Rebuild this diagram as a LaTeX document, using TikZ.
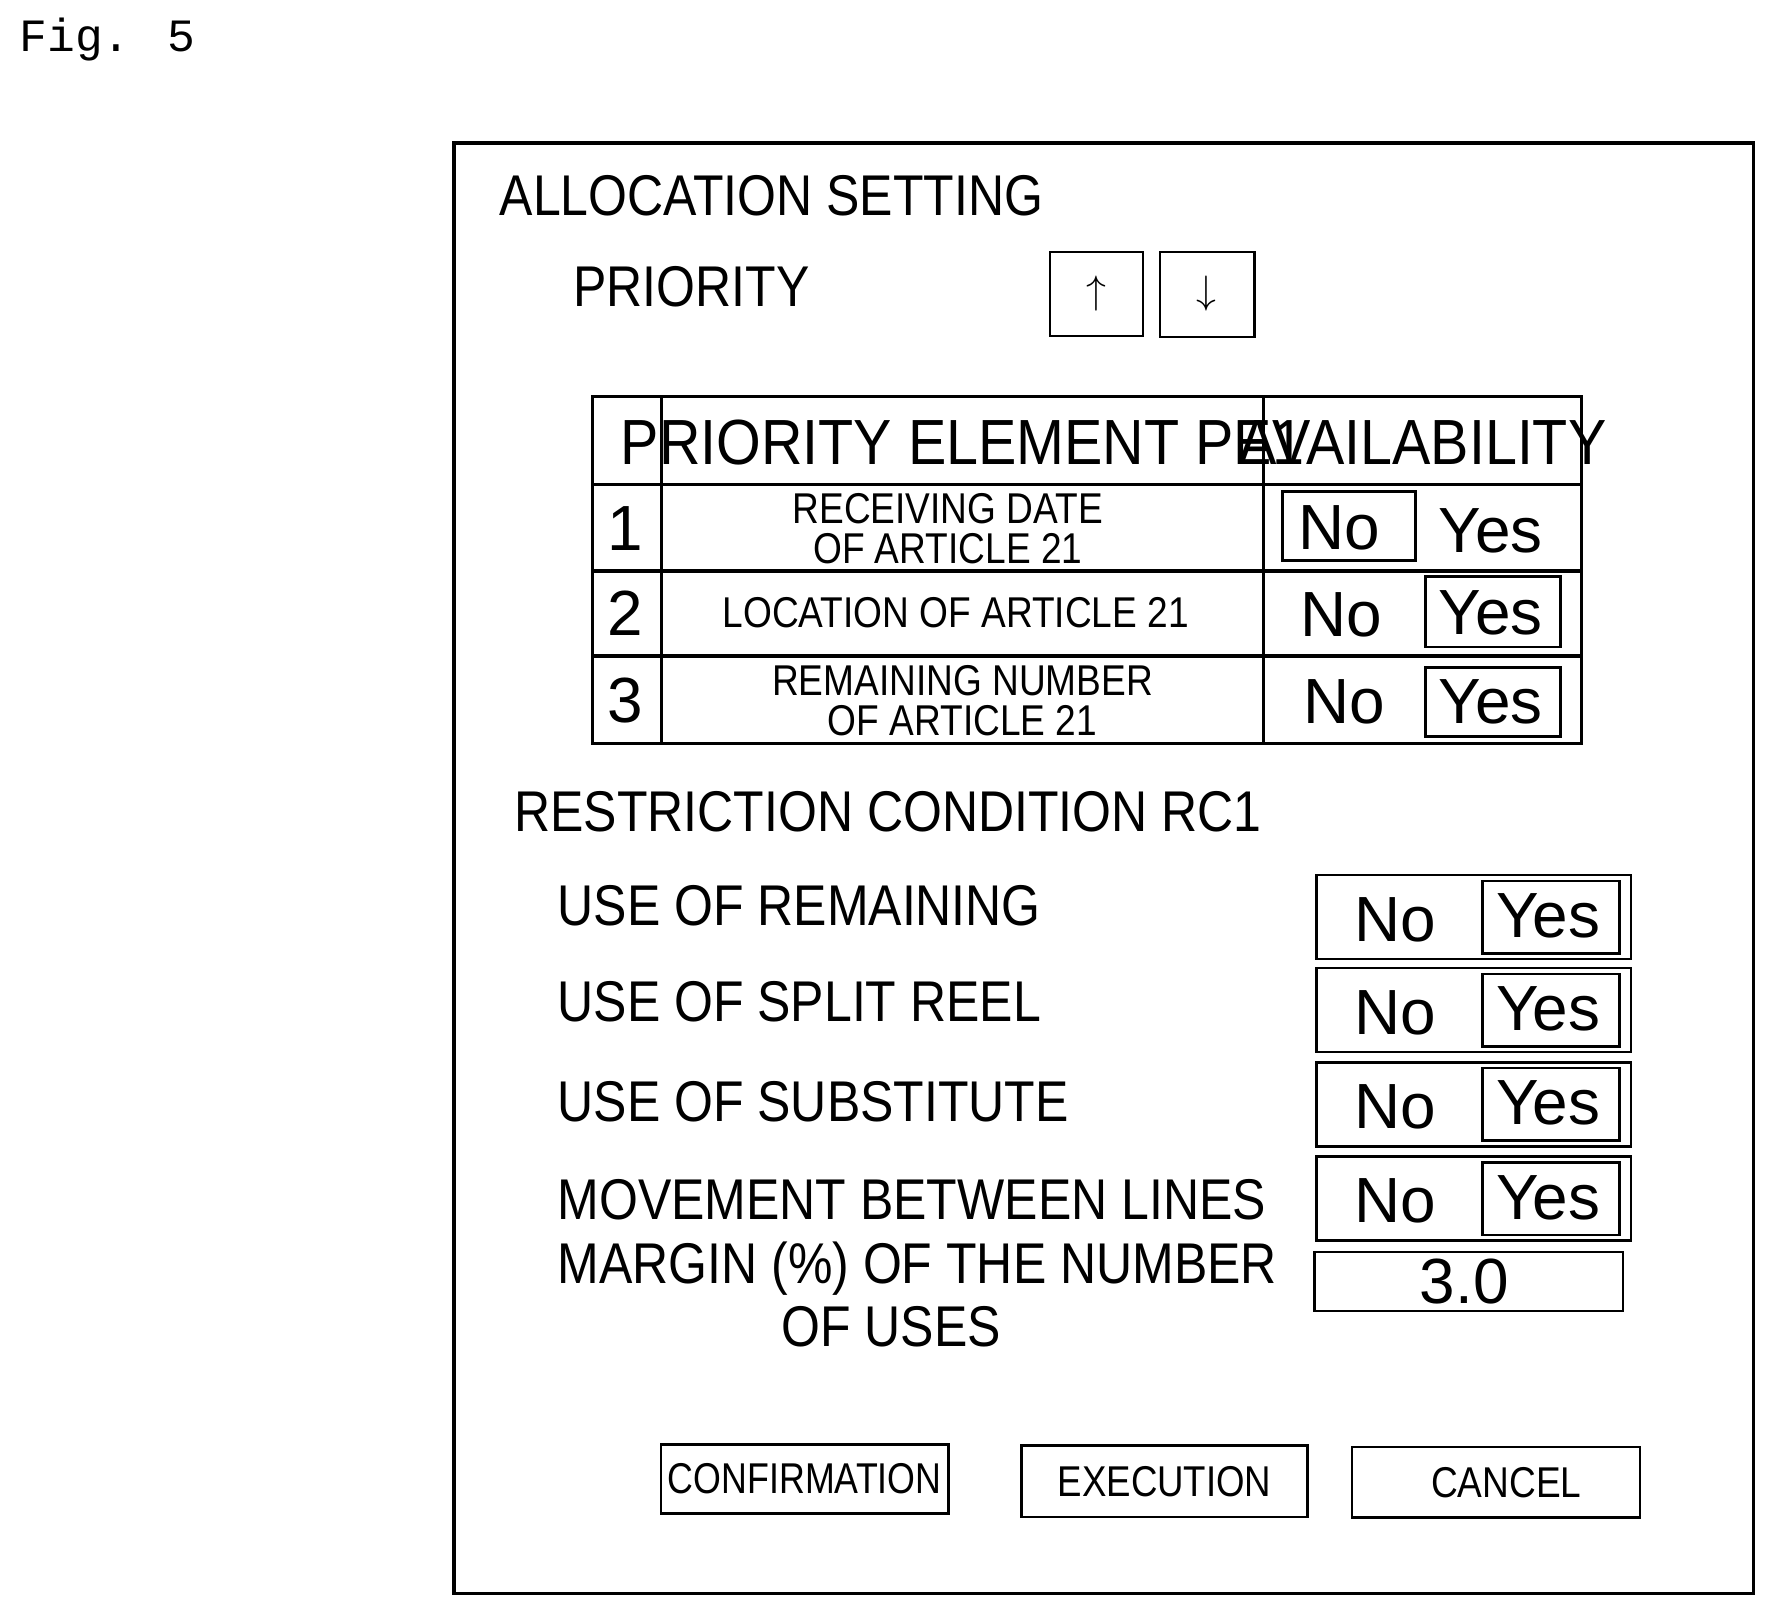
\documentclass[tikz,border=0pt]{standalone}
\usepackage{fontspec}
\setmainfont{Liberation Sans}
\newfontfamily\figfont{Liberation Mono}
\usetikzlibrary{calc}

\newcommand{\fbig}{\fontsize{36}{40}\selectfont}
\newcommand{\fmid}{\fontsize{40}{44}\selectfont}
\newcommand{\fsmall}{\fontsize{27}{29}\selectfont}
\newcommand{\sx}[2]{\scalebox{#1}[1]{#2}}

\tikzset{
  boxline/.style={draw, line width=1.6pt},
  lbl/.style={anchor=base west, inner sep=0pt, font=\fbig},
}

\begin{document}
\begin{tikzpicture}[x=0.025cm,y=-0.025cm]
\useasboundingbox (0,0) rectangle (1570,1427);
\node[anchor=base west, inner sep=0pt, font=\figfont\fontsize{29}{31}\selectfont] (fig) at (17,45) {Fig. 5};
% frame
\draw[line width=2.2pt] (400,126) rectangle (1545,1404);
\node[lbl] (title) at (440,190) {\sx{0.87}{ALLOCATION SETTING}};
\node[lbl] (prio) at (505,270) {\sx{0.87}{PRIORITY}};
\draw[boxline] (925,222) rectangle (1007,296);
\draw[boxline] (1022,222) rectangle (1105,297);
\node[font=\fontsize{60}{62}\selectfont] (up) at (966,259) {$\uparrow$};
\node[font=\fontsize{60}{62}\selectfont] (down) at (1063,259) {$\downarrow$};
% table
\draw[line width=2pt] (522,349) rectangle (1393,655);
\foreach \y in {427,503,578} \draw[line width=2pt] (522,\y) -- (1393,\y);
\foreach \x in {583,1113} \draw[line width=2pt] (\x,349) -- (\x,655);
\node[font=\fmid] (hd1) at (848,390) {\sx{0.9}{PRIORITY ELEMENT PE1}};
\node[font=\fmid] (hd2) at (1253,390) {\sx{0.9}{AVAILABILITY}};
\node[font=\fmid] (n1) at (551,466) {1};
\node[font=\fmid] (n2) at (551,540) {2};
\node[font=\fmid] (n3) at (551,617) {3};
\node[font=\fsmall, align=center, inner sep=0pt] (r1) at (835,466) {\sx{0.86}{RECEIVING DATE}\\[-4pt]\sx{0.86}{OF ARTICLE 21}};
\node[font=\fsmall] (r2) at (842,540) {\sx{0.86}{LOCATION OF ARTICLE 21}};
\node[font=\fsmall, align=center, inner sep=0pt] (r3) at (848,617) {\sx{0.86}{REMAINING NUMBER}\\[-4pt]\sx{0.86}{OF ARTICLE 21}};
\draw[boxline] (1130,433) rectangle (1247,494);
\node[font=\fmid] (no1) at (1180,465) {No};
\node[font=\fmid] (yes1) at (1313,468) {Yes};
\draw[boxline] (1256,508) rectangle (1375,570);
\node[font=\fmid] (no2) at (1182,542) {No};
\node[font=\fmid] (yes2) at (1313,540) {Yes};
\draw[boxline] (1256,588) rectangle (1375,649);
\node[font=\fmid] (no3) at (1184,618) {No};
\node[font=\fmid] (yes3) at (1313,618) {Yes};
% restriction condition
\node[lbl] (rc) at (453,733) {\sx{0.87}{RESTRICTION CONDITION RC1}};
\node[lbl] (c1) at (491,815) {\sx{0.87}{USE OF REMAINING}};
\node[lbl] (c2) at (491,900) {\sx{0.87}{USE OF SPLIT REEL}};
\node[lbl] (c3) at (491,988) {\sx{0.87}{USE OF SUBSTITUTE}};
\node[lbl] (c4) at (491,1074) {\sx{0.87}{MOVEMENT BETWEEN LINES}};
\node[lbl] (c5) at (491,1131) {\sx{0.87}{MARGIN (\%) OF THE NUMBER}};
\node[anchor=base, inner sep=0pt, font=\fbig] (c6) at (785,1186) {\sx{0.87}{OF USES}};
\foreach \t/\i in {771/1,853/2,936/3,1019/4}{
  \draw[boxline] (1160,\t) rectangle (1437,\t+74);
  \draw[boxline] (1306,\t+5) rectangle (1427,\t+69);
  \node[font=\fmid] (tno\i) at (1229,\t+39) {No};
  \node[font=\fmid] (tyes\i) at (1364,\t+36) {Yes};
}
\draw[boxline] (1158,1103) rectangle (1430,1155);
\node[font=\fmid] (marg) at (1290,1129) {3.0};
% buttons
\node[boxline, minimum width=253*0.025cm, minimum height=61*0.025cm, font=\fsmall] (conf) at (709,1303) {\sx{0.83}{CONFIRMATION}};
\node[boxline, minimum width=252*0.025cm, minimum height=63*0.025cm, font=\fsmall] (exec) at (1026,1305) {\sx{0.85}{EXECUTION}};
\draw[boxline] (1191,1275) rectangle (1445,1337);
\node[font=\fsmall] (canc) at (1327,1306) {\sx{0.86}{CANCEL}};
\end{tikzpicture}
\end{document}
